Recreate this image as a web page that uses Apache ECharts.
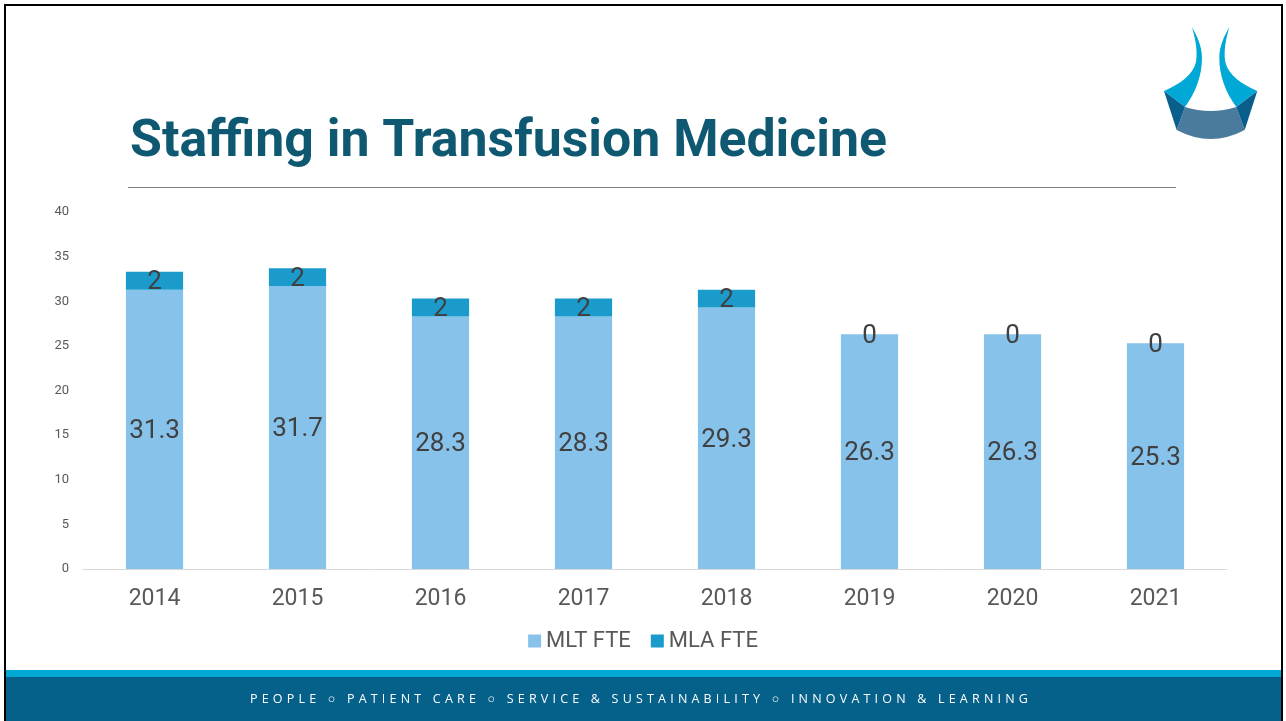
<!DOCTYPE html>
<html><head><meta charset="utf-8">
<script src="https://cdn.jsdelivr.net/npm/echarts@6/dist/echarts.min.js"></script>
<style>
html,body{margin:0;padding:0;background:#fff;}
#wrap{position:relative;width:1286px;height:721px;overflow:hidden}
#c{width:1286px;height:721px}
#footer{position:absolute;left:0;width:1282px;top:690px;text-align:center;color:#ffffff;font-family:'Open Sans';font-size:12.5px;line-height:17px;letter-spacing:4.2px;white-space:nowrap}
</style></head><body>
<div id="wrap">
<div id="c"></div>
<div id="footer">PEOPLE ○ PATIENT CARE ○ SERVICE &amp; SUSTAINABILITY ○ INNOVATION &amp; LEARNING</div>
</div>
<script>
const titleText = 'Staffing in Transfusion Medicine';
const years = ['2014', '2015', '2016', '2017', '2018', '2019', '2020', '2021'];
const mltFte = [31.3, 31.7, 28.3, 28.3, 29.3, 26.3, 26.3, 25.3];
const mlaFte = [2, 2, 2, 2, 2, 0, 0, 0];
const seriesNames = ['MLT FTE', 'MLA FTE'];
const yMin = 0, yMax = 40, yStep = 5;

// fit condensed title width
const mctx = document.createElement('canvas').getContext('2d');
mctx.font = 'bold 52px Roboto';
const titleW = mctx.measureText(titleText).width;
const titleScale = 757 / titleW;

// logo shapes
const logoPaths = {
  logoHornL: 'M1192,27 C1197,36 1202,46 1202,58 C1202,75 1196,92 1185,107 L1164,91 C1180,84 1193,75 1196,62 C1198,50 1195,38 1192,27 Z',
  logoHornR: 'M1229.3,27 C1224.3,36 1219.3,46 1219.3,58 C1219.3,75 1225.3,92 1236.3,107 L1257.3,91 C1241.3,84 1228.3,75 1225.3,62 C1223.3,50 1226.3,38 1229.3,27 Z',
  logoBand: 'M1185,107 Q1210.7,115 1236.3,107 L1244.7,130 Q1210.7,148 1176.7,130 Z',
  logoSideL: 'M1164,91 L1185,107 L1176.7,130 Z',
  logoSideR: 'M1257.3,91 L1236.3,107 L1244.7,130 Z'
};
Object.keys(logoPaths).forEach(function (k) {
  echarts.graphic.registerShape(k, echarts.graphic.extendPath(logoPaths[k], {}));
});

const chart = echarts.init(document.getElementById('c'), null, {renderer: 'canvas'});
const labelStyle = {show: true, position: 'inside', fontSize: 26, color: '#404040', fontFamily: 'Roboto', offset: [0, 2]};
chart.setOption({
  backgroundColor: '#ffffff',
  animation: false,
  textStyle: {fontFamily: 'Roboto'},
  grid: {left: 83, right: 59, top: 212, bottom: 152, containLabel: false},
  legend: {
    top: 625, left: 'center', icon: 'rect', itemWidth: 13, itemHeight: 13, itemGap: 20,
    textStyle: {fontSize: 22, color: '#595959', fontFamily: 'Roboto'},
    data: seriesNames
  },
  xAxis: {
    type: 'category', data: years,
    axisLine: {show: true, lineStyle: {color: '#d9d9d9', width: 1}},
    axisTick: {show: false},
    axisLabel: {fontSize: 23, color: '#595959', margin: 19, fontFamily: 'Roboto'}
  },
  yAxis: {
    type: 'value', min: yMin, max: yMax, interval: yStep,
    axisLine: {show: false}, axisTick: {show: false}, splitLine: {show: false},
    axisLabel: {fontSize: 13, color: '#595959', margin: 14, fontFamily: 'Roboto', padding: [4, 0, 0, 0]}
  },
  series: [
    {name: seriesNames[0], type: 'bar', stack: 'a', data: mltFte, barWidth: '40%',
     itemStyle: {color: '#86c2ea'}, label: labelStyle},
    {name: seriesNames[1], type: 'bar', stack: 'a', data: mlaFte, barWidth: '40%',
     itemStyle: {color: '#1b9bcb'}, label: labelStyle}
  ],
  graphic: [
    {type: 'rect', z: 100, shape: {x: 5, y: 5, width: 1277, height: 730}, style: {fill: 'none', stroke: '#000', lineWidth: 2}},
    {type: 'text', x: 130, y: 143, scaleX: titleScale, style: {text: titleText, font: 'bold 52px Roboto', fill: '#0f5872', verticalAlign: 'middle', align: 'left'}},
    {type: 'line', shape: {x1: 128, y1: 187.5, x2: 1176, y2: 187.5}, style: {stroke: '#7f7f7f', lineWidth: 1}},
    {type: 'rect', shape: {x: 6, y: 670, width: 1275, height: 7}, style: {fill: '#00a9d4'}},
    {type: 'rect', shape: {x: 6, y: 677, width: 1275, height: 50}, style: {fill: '#05608a'}},
    {type: 'logoHornL', style: {fill: '#00a8d6'}},
    {type: 'logoHornR', style: {fill: '#00a8d6'}},
    {type: 'logoBand', style: {fill: '#4a7a9c'}},
    {type: 'logoSideL', style: {fill: '#0a5e8c'}},
    {type: 'logoSideR', style: {fill: '#0a5e8c'}}
  ]
});
</script>
</body></html>
